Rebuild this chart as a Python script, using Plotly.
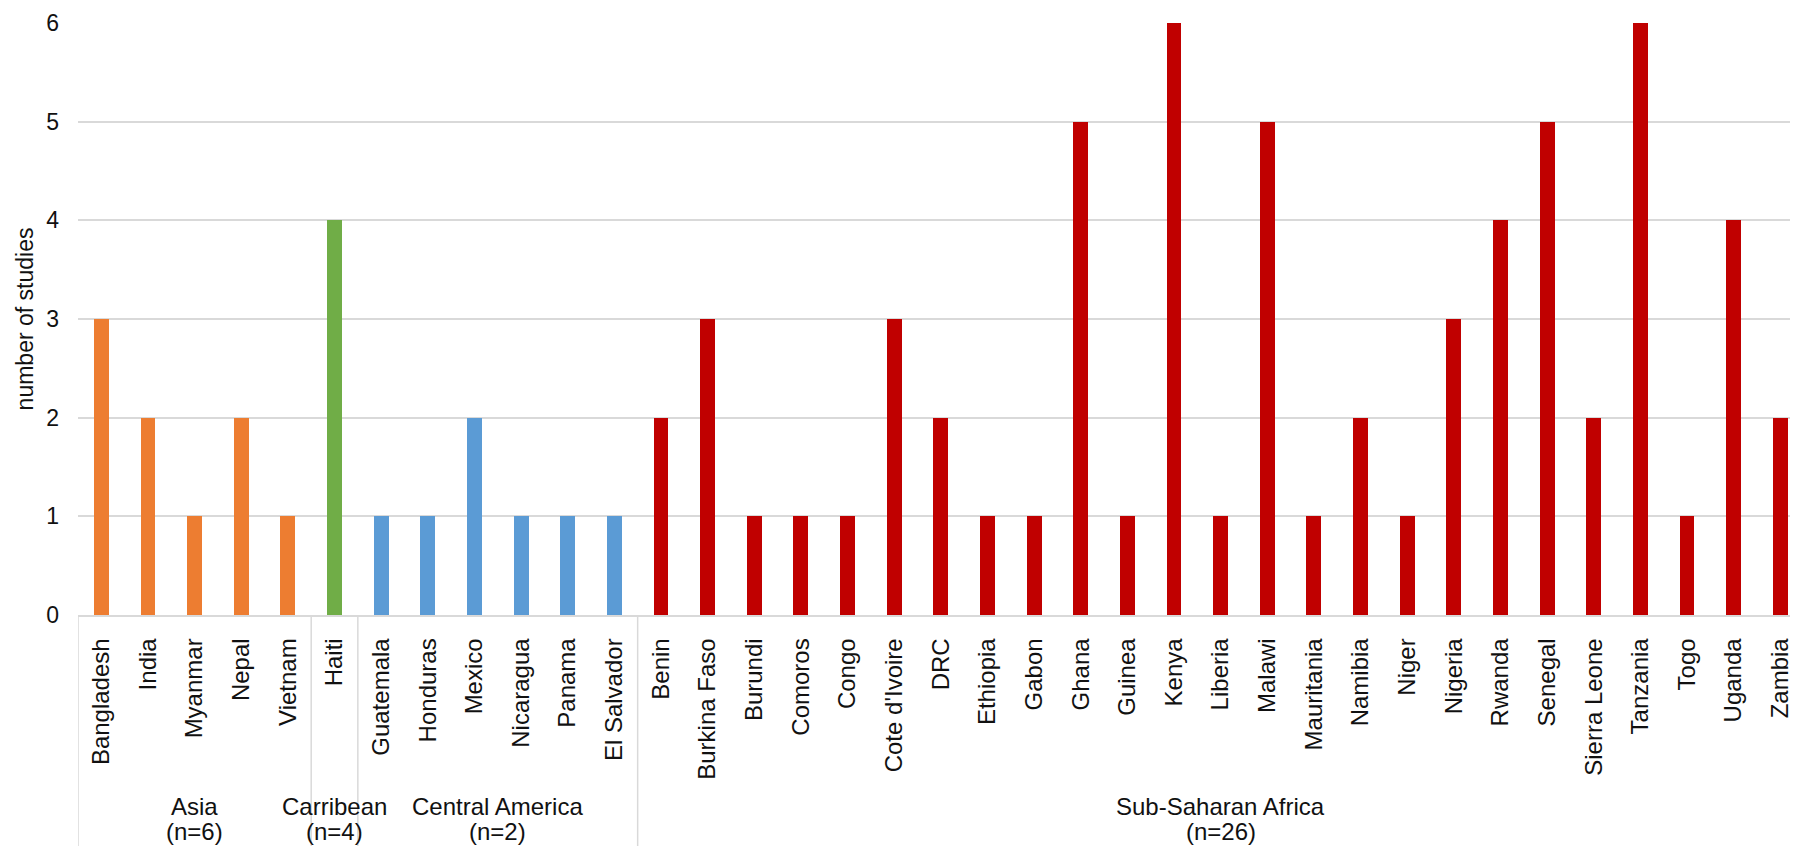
import plotly.graph_objects as go

# Countries and study counts per region
asia_countries = ["Bangladesh", "India", "Myanmar", "Nepal", "Vietnam"]
asia_counts = [3, 2, 1, 2, 1]

carribean_countries = ["Haiti"]
carribean_counts = [4]

central_america_countries = ["Guatemala", "Honduras", "Mexico", "Nicaragua", "Panama", "El Salvador"]
central_america_counts = [1, 1, 2, 1, 1, 1]

ssa_countries = ["Benin", "Burkina Faso", "Burundi", "Comoros", "Congo", "Cote d'Ivoire", "DRC",
                 "Ethiopia", "Gabon", "Ghana", "Guinea", "Kenya", "Liberia", "Malawi", "Mauritania",
                 "Namibia", "Niger", "Nigeria", "Rwanda", "Senegal", "Sierra Leone", "Tanzania",
                 "Togo", "Uganda", "Zambia"]
ssa_counts = [2, 3, 1, 1, 1, 3, 2, 1, 1, 5, 1, 6, 1, 5, 1, 2, 1, 3, 4, 5, 2, 6, 1, 4, 2]

region_names = ["Asia", "Carribean", "Central America", "Sub-Saharan Africa"]
region_n = ["(n=6)", "(n=4)", "(n=2)", "(n=26)"]
region_colors = ["#ED7D31", "#70AD47", "#5B9BD5", "#C00000"]

y_ticks = [0, 1, 2, 3, 4, 5, 6]

groups = [
    (asia_countries, asia_counts),
    (carribean_countries, carribean_counts),
    (central_america_countries, central_america_counts),
    (ssa_countries, ssa_counts),
]

FONT = "Liberation Sans, Arial, sans-serif"
TEXT = "#111111"
GRID = "#D9D9D9"

labels, values, colors = [], [], []
spans = []  # (first index, last index) of each region
for (names, counts), col in zip(groups, region_colors):
    start = len(labels)
    labels += names
    values += counts
    colors += [col] * len(names)
    spans.append((start, len(labels) - 1))

x_pos = list(range(len(labels)))

fig = go.Figure()
fig.add_trace(go.Bar(
    x=x_pos, y=values, width=0.32,
    marker=dict(color=colors, line=dict(width=0)),
    showlegend=False,
))

W, H = 1793, 846
ML, MT, MB = 78, 23, 231
plot_w = W - ML
cat_w = 46.72  # pixels per category
x_max = -0.5 + plot_w / cat_w

# region labels below the country names
for (a, b), name, n in zip(spans, region_names, region_n):
    xc = (a + b) / 2
    fig.add_annotation(x=xc, xref="x", y=-(806 - 615) / 592, yref="paper",
                       text=name, showarrow=False, yanchor="middle",
                       font=dict(family=FONT, size=24, color=TEXT))
    fig.add_annotation(x=xc, xref="x", y=-(832 - 615) / 592, yref="paper",
                       text=n, showarrow=False, yanchor="middle",
                       font=dict(family=FONT, size=24, color=TEXT))

# divider lines between regions on the category axis
boundaries = [spans[0][0] - 0.5] + [b + 0.5 for (_, b) in spans]
for xb in boundaries:
    fig.add_shape(type="line", xref="x", yref="paper", x0=xb, x1=xb, y0=0, y1=-0.5,
                  line=dict(color=GRID, width=1.5), layer="above")

fig.update_layout(
    width=W, height=H,
    margin=dict(l=ML, r=0, t=MT, b=MB, pad=0),
    paper_bgcolor="white", plot_bgcolor="white",
    font=dict(family=FONT, size=23, color=TEXT),
    bargap=0,
    xaxis=dict(
        range=[-0.5, x_max],
        tickmode="array", tickvals=x_pos, ticktext=labels,
        tickangle=-90, ticks="", ticklabelstandoff=12,
        ticklabeloverflow="allow",
        tickfont=dict(family=FONT, size=24, color=TEXT),
        showgrid=False, zeroline=False,
        showline=True, linecolor=GRID, linewidth=1.5,
    ),
    yaxis=dict(
        range=[0, 6], tickmode="array", tickvals=y_ticks,
        ticks="", ticklabelstandoff=18,
        tickfont=dict(family=FONT, size=23, color=TEXT),
        showgrid=True, gridcolor=GRID, gridwidth=1.5,
        zeroline=False, showline=False,
        title=dict(text="number of studies", standoff=6,
                   font=dict(family=FONT, size=23, color=TEXT)),
    ),
)

fig.write_html("out.html")
